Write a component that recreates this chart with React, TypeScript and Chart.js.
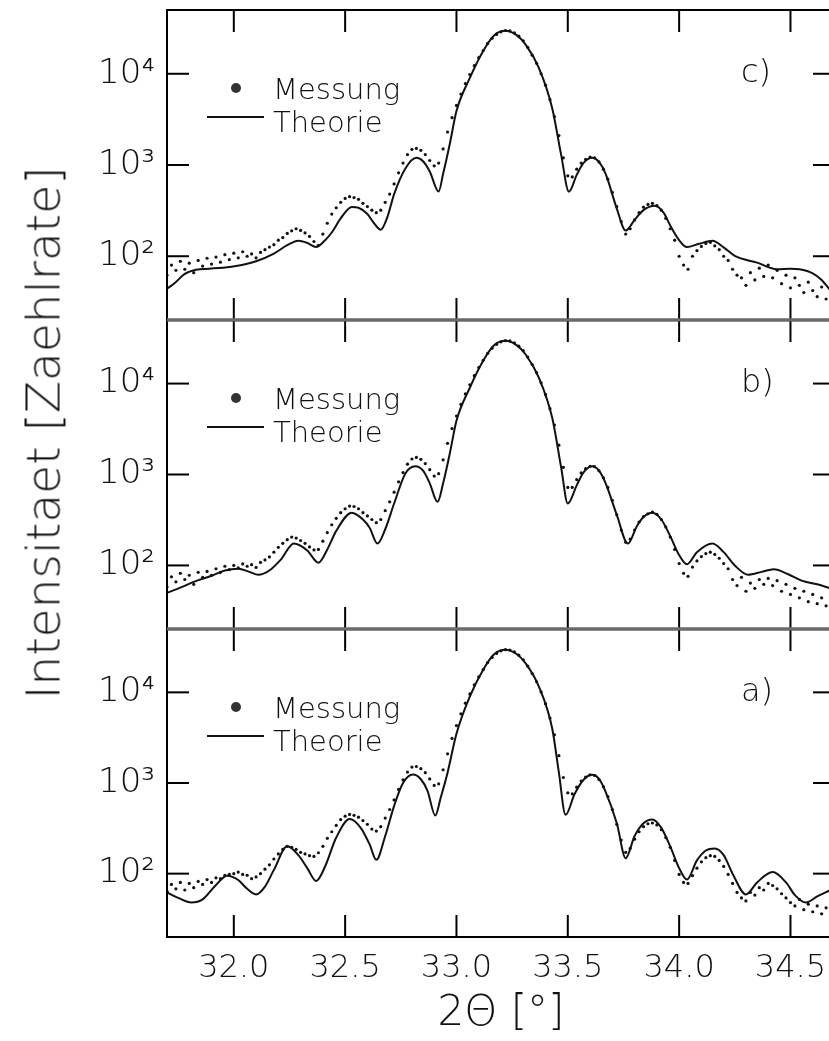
import { useEffect, useRef } from 'react';
import { Chart, registerables } from 'chart.js';

Chart.register(...registerables);

// ---------- data ----------
const X_TICKS = [32.0, 32.5, 33.0, 33.5, 34.0, 34.5];
const X_TICK_LABELS = ['32.0', '32.5', '33.0', '33.5', '34.0', '34.5'];
const Y_TICKS = [100, 1000, 10000];
const Y_TICK_LABELS = ['10²', '10³', '10⁴'];
const PANEL_LABELS = ['c)', 'b)', 'a)'];
const LEGEND_MEAS = 'Messung';
const LEGEND_THEO = 'Theorie';
const X_TITLE = '2Θ [°]';
const Y_TITLE = 'Intensitaet [Zaehlrate]';

const MEAS_X = [
  31.70, 31.72, 31.74, 31.76, 31.78, 31.80, 31.82, 31.84, 31.86, 31.88,
  31.90, 31.92, 31.94, 31.96, 31.98, 32.00, 32.02, 32.04, 32.06, 32.08,
  32.10, 32.12, 32.14, 32.16, 32.18, 32.20, 32.22, 32.24, 32.26, 32.28,
  32.30, 32.32, 32.34, 32.36, 32.38, 32.40, 32.42, 32.44, 32.46, 32.48,
  32.50, 32.52, 32.54, 32.56, 32.58, 32.60, 32.62, 32.64, 32.66, 32.68,
  32.70, 32.72, 32.74, 32.76, 32.78, 32.80, 32.82, 32.84, 32.86, 32.88,
  32.90, 32.92, 32.94, 32.96, 32.98, 33.00, 33.02, 33.04, 33.06, 33.08,
  33.10, 33.12, 33.14, 33.16, 33.18, 33.20, 33.22, 33.24, 33.26, 33.28,
  33.30, 33.32, 33.34, 33.36, 33.38, 33.40, 33.42, 33.44, 33.46, 33.48,
  33.50, 33.52, 33.54, 33.56, 33.58, 33.60, 33.62, 33.64, 33.66, 33.68,
  33.70, 33.72, 33.74, 33.76, 33.78, 33.80, 33.82, 33.84, 33.86, 33.88,
  33.90, 33.92, 33.94, 33.96, 33.98, 34.00, 34.02, 34.04, 34.06, 34.08,
  34.10, 34.12, 34.14, 34.16, 34.18, 34.20, 34.22, 34.24, 34.26, 34.28,
  34.30, 34.32, 34.34, 34.36, 34.38, 34.40, 34.42, 34.44, 34.46, 34.48,
  34.50, 34.52, 34.54, 34.56, 34.58, 34.60, 34.62, 34.64, 34.66, 34.68,
];

const MEAS_C = [
  62, 80, 70, 88, 72, 84, 66, 90, 78, 95,
  82, 98, 86, 104, 92, 108, 96, 112, 100, 106,
  96, 110, 118, 126, 134, 150, 160, 178, 190, 200,
  192, 180, 165, 145, 132, 175, 230, 290, 340, 390,
  430, 450, 440, 420, 380, 350, 320, 300, 320, 390,
  480, 620, 820, 1050, 1300, 1480, 1520, 1450, 1300, 1120,
  980, 1050, 1500, 2300, 3300, 4500, 6000, 7800, 9800, 12300,
  15000, 18000, 21500, 24500, 27000, 28800, 29800, 29500, 28000, 25800,
  23000, 19500, 16000, 13000, 10000, 7500, 5200, 3400, 2100, 1200,
  760, 740, 900, 1050, 1150, 1220, 1200, 1080, 900, 700,
  500, 350, 240, 175, 200, 250, 300, 345, 370, 380,
  360, 320, 260, 200, 150, 100, 80, 72, 100, 115,
  128, 138, 142, 130, 118, 100, 90, 72, 62, 58,
  48, 66, 55, 74, 60, 80, 58, 70, 50, 62,
  45, 58, 48, 40, 52, 42, 36, 46, 34, 40,
];

const MEAS_B = [
  58, 75, 66, 82, 70, 78, 62, 84, 74, 86,
  78, 92, 84, 98, 90, 100, 94, 104, 98, 102,
  95, 108, 115, 124, 140, 158, 175, 192, 205, 200,
  188, 175, 160, 148, 150, 185, 230, 280, 330, 380,
  420, 450, 445, 420, 380, 350, 320, 295, 320, 400,
  500, 640, 830, 1050, 1300, 1480, 1540, 1470, 1320, 1130,
  960, 1020, 1450, 2200, 3200, 4400, 5900, 7700, 9700, 12200,
  15000, 18000, 21500, 24500, 27000, 28800, 29700, 29400, 28000, 25800,
  23000, 19600, 16200, 13200, 10200, 7600, 5300, 3500, 2100, 1200,
  720, 720, 880, 1040, 1160, 1230, 1220, 1100, 920, 720,
  520, 360, 245, 180, 195, 245, 300, 345, 370, 385,
  365, 320, 265, 205, 150, 105, 82, 76, 96, 112,
  125, 135, 140, 132, 120, 105, 92, 70, 60, 74,
  52, 64, 56, 70, 62, 72, 60, 68, 52, 62,
  48, 56, 44, 52, 40, 48, 38, 44, 36, 40,
];

const MEAS_A = [
  64, 76, 68, 80, 66, 78, 70, 82, 76, 86,
  80, 90, 88, 96, 98, 100, 104, 98, 96, 88,
  92, 100, 112, 125, 145, 165, 185, 200, 195, 185,
  172, 165, 158, 155, 170, 200, 245, 290, 340, 395,
  430, 450, 440, 420, 385, 350, 310, 295, 330, 410,
  510, 650, 850, 1080, 1320, 1500, 1520, 1440, 1300, 1110,
  940, 980, 1400, 2100, 3100, 4300, 5800, 7600, 9600, 12100,
  14800, 17800, 21300, 24300, 26900, 28700, 29600, 29300, 27900, 25700,
  22900, 19500, 16100, 13100, 10100, 7500, 5200, 3400, 2000, 1150,
  780, 760, 900, 1050, 1160, 1230, 1210, 1090, 910, 710,
  510, 350, 235, 172, 190, 240, 290, 330, 355, 362,
  345, 305, 250, 195, 140, 98, 80, 78, 95, 115,
  135, 150, 158, 155, 140, 120, 98, 78, 62, 54,
  50, 62, 58, 70, 66, 78, 74, 68, 60, 54,
  48, 44, 52, 40, 46, 38, 44, 36, 42, 38,
];

const THEO_C_X = [31.70, 31.735, 31.78, 31.83, 31.89, 31.95, 32.01, 32.10, 32.18, 32.24, 32.29, 32.33, 32.37, 32.41, 32.44, 32.48, 32.53, 32.56, 32.60, 32.63, 32.66, 32.69, 32.72, 32.77, 32.82, 32.85, 32.88, 32.92, 32.94, 32.97, 33.00, 33.06, 33.12, 33.17, 33.22, 33.27, 33.31, 33.37, 33.43, 33.47, 33.505, 33.54, 33.57, 33.61, 33.64, 33.67, 33.72, 33.76, 33.80, 33.84, 33.89, 33.93, 33.96, 34.00, 34.035, 34.09, 34.15, 34.20, 34.25, 34.35, 34.44, 34.50, 34.54, 34.60, 34.64, 34.68];
const THEO_C_Y = [44, 51, 64, 71, 73, 75, 78, 88, 107, 132, 148, 140, 126, 150, 182, 260, 347, 340, 290, 230, 195, 270, 480, 912, 1200, 1100, 850, 513, 800, 1700, 3900, 9000, 17800, 26500, 29600, 26500, 21000, 11600, 4200, 1300, 510, 780, 1050, 1200, 1080, 800, 333, 191, 250, 320, 357, 300, 217, 150, 126, 137, 148, 125, 101, 85, 72, 73, 72, 65, 55, 42];

const THEO_B_X = [31.70, 31.76, 31.82, 31.90, 31.96, 32.02, 32.07, 32.11, 32.16, 32.21, 32.27, 32.33, 32.38, 32.42, 32.46, 32.53, 32.58, 32.61, 32.645, 32.68, 32.72, 32.77, 32.815, 32.85, 32.88, 32.915, 32.94, 32.97, 33.00, 33.06, 33.12, 33.17, 33.22, 33.27, 33.31, 33.37, 33.43, 33.47, 33.50, 33.54, 33.57, 33.61, 33.64, 33.67, 33.72, 33.77, 33.81, 33.84, 33.88, 33.92, 33.96, 34.00, 34.035, 34.08, 34.15, 34.20, 34.25, 34.31, 34.37, 34.425, 34.49, 34.55, 34.62, 34.68];
const THEO_B_Y = [50, 57, 66, 77, 88, 92, 85, 79, 88, 115, 174, 146, 107, 150, 240, 380, 320, 260, 174, 250, 480, 1020, 1230, 1100, 800, 500, 800, 1700, 3900, 9000, 17800, 26500, 29600, 26500, 21000, 11600, 4200, 1200, 480, 760, 1050, 1230, 1100, 800, 360, 174, 270, 340, 380, 320, 210, 130, 103, 140, 174, 140, 100, 79, 85, 91, 80, 68, 62, 56];

const THEO_A_X = [31.70, 31.75, 31.81, 31.86, 31.92, 31.97, 32.02, 32.06, 32.10, 32.14, 32.18, 32.24, 32.29, 32.33, 32.37, 32.41, 32.46, 32.52, 32.57, 32.61, 32.64, 32.68, 32.72, 32.76, 32.805, 32.84, 32.87, 32.905, 32.93, 32.96, 33.00, 33.06, 33.12, 33.17, 33.22, 33.27, 33.31, 33.37, 33.43, 33.46, 33.49, 33.53, 33.57, 33.61, 33.64, 33.67, 33.72, 33.76, 33.80, 33.84, 33.88, 33.92, 33.96, 34.00, 34.035, 34.08, 34.12, 34.16, 34.20, 34.24, 34.30, 34.35, 34.42, 34.48, 34.52, 34.57, 34.62, 34.68];
const THEO_A_Y = [62, 54, 48, 52, 75, 95, 85, 68, 59, 72, 110, 200, 160, 115, 83, 120, 250, 400, 320, 210, 142, 260, 560, 1000, 1240, 1100, 820, 437, 700, 1300, 3500, 9000, 17800, 26500, 29600, 26500, 21000, 11600, 4000, 1300, 445, 750, 1080, 1230, 1110, 800, 360, 148, 260, 360, 396, 320, 200, 115, 86, 140, 180, 190, 160, 100, 59, 80, 104, 80, 58, 48, 56, 66];

// ---------- style / layout ----------
const FONT = "'DejaVu Sans', sans-serif";
const WEIGHT = 200;
const AXIS_LEFT = 167;
const CANVAS_W = 845;
const PAGE_H = 1041;
const SEP_COLOR = '#6a6a6a';

const PANELS = [
  { top: 10, bottom: 320, theoX: THEO_C_X, theoY: THEO_C_Y, meas: MEAS_C, label: PANEL_LABELS[0], topColor: '#000', bottomColor: SEP_COLOR, showX: false },
  { top: 320, bottom: 629, theoX: THEO_B_X, theoY: THEO_B_Y, meas: MEAS_B, label: PANEL_LABELS[1], topColor: SEP_COLOR, bottomColor: SEP_COLOR, showX: false },
  { top: 629, bottom: 937, theoX: THEO_A_X, theoY: THEO_A_Y, meas: MEAS_A, label: PANEL_LABELS[2], topColor: SEP_COLOR, bottomColor: '#000', showX: true },
];
const PAD = 6;

const framePlugin = {
  id: 'frame',
  afterDraw(chart: any, _args: any, opts: any) {
    const { ctx, chartArea } = chart;
    const { left, right, top, bottom } = chartArea;
    const x = chart.scales.x;
    const y = chart.scales.y;
    const seg = (x1: number, y1: number, x2: number, y2: number, color = '#000', w = 2) => {
      ctx.beginPath();
      ctx.strokeStyle = color;
      ctx.lineWidth = w;
      ctx.moveTo(x1, y1);
      ctx.lineTo(x2, y2);
      ctx.stroke();
    };
    ctx.save();
    const TL = 22;
    x.ticks.forEach((t: any) => {
      const px = x.getPixelForValue(t.value);
      seg(px, top, px, top + TL);
      seg(px, bottom, px, bottom - TL);
    });
    y.ticks.forEach((t: any) => {
      const py = y.getPixelForValue(t.value);
      seg(left, py, left + TL, py);
      seg(right, py, right - TL, py);
    });
    seg(left, top - 1, left, bottom + 1);
    seg(right, top - 1, right, bottom + 1);
    seg(left, top, right, top, opts.topColor, opts.topColor === '#000' ? 2 : 3);
    seg(left, bottom, right, bottom, opts.bottomColor, opts.bottomColor === '#000' ? 2 : 3);
    ctx.restore();
  },
};

function panelCanvasBox(p: any) {
  const cTop = p.top - PAD;
  const cBottom = p.showX ? PAGE_H : p.bottom + PAD;
  return { cTop, height: cBottom - cTop };
}

export default function App() {
  const refs = [useRef<HTMLCanvasElement>(null), useRef<HTMLCanvasElement>(null), useRef<HTMLCanvasElement>(null)];

  useEffect(() => {
    const charts = PANELS.map((p, i) => {
      const canvas = refs[i].current!;
      const theory = p.theoX.map((x, k) => ({ x, y: p.theoY[k] }));
      const meas = MEAS_X.map((x, k) => ({ x, y: p.meas[k] }));
      return new Chart(canvas, {
        type: 'line',
        data: {
          datasets: [
            {
              label: LEGEND_THEO,
              data: theory,
              borderColor: '#111',
              borderWidth: 2,
              pointRadius: 0,
              cubicInterpolationMode: 'monotone',
              fill: false,
            },
            {
              label: LEGEND_MEAS,
              data: meas,
              showLine: false,
              pointRadius: 1.6,
              pointBorderWidth: 0,
              pointBackgroundColor: '#111',
              borderColor: '#111',
            },
          ],
        },
        options: {
          responsive: false,
          animation: false,
          devicePixelRatio: 1,
          layout: { padding: { top: PAD, bottom: p.showX ? 0 : PAD, left: 0, right: CANVAS_W - 835 } },
          plugins: {
            legend: { display: false },
            tooltip: { enabled: false },
            frame: { topColor: p.topColor, bottomColor: p.bottomColor },
          } as any,
          scales: {
            x: {
              type: 'linear',
              min: 31.7,
              max: 34.7,
              grid: { display: false, drawTicks: false },
              border: { display: false },
              afterBuildTicks: (s: any) => { s.ticks = X_TICKS.map((v) => ({ value: v })); },
              afterFit: (s: any) => {
                s.height = p.showX ? PAGE_H - p.bottom : 0;
                s.paddingLeft = 0; s.paddingRight = 0; s.paddingTop = 0; s.paddingBottom = 0;
              },
              ticks: {
                display: p.showX,
                color: '#111',
                padding: 12,
                maxRotation: 0,
                autoSkip: false,
                font: { family: FONT, size: 32, weight: WEIGHT as any },
                callback: (_v: any, idx: number) => X_TICK_LABELS[idx],
              },
              title: {
                display: p.showX,
                text: X_TITLE,
                color: '#111',
                font: { family: FONT, size: 42, weight: WEIGHT as any },
                padding: { top: 0, bottom: 2 },
              },
            },
            y: {
              type: 'logarithmic',
              min: 20,
              max: 50000,
              grid: { display: false, drawTicks: false },
              border: { display: false },
              afterBuildTicks: (s: any) => { s.ticks = Y_TICKS.map((v) => ({ value: v })); },
              afterFit: (s: any) => {
                s.width = AXIS_LEFT;
                s.paddingLeft = 0; s.paddingRight = 0; s.paddingTop = 0; s.paddingBottom = 0;
              },
              ticks: {
                color: '#111',
                padding: 12,
                autoSkip: false,
                font: { family: FONT, size: 34, weight: WEIGHT as any },
                callback: (_v: any, idx: number) => Y_TICK_LABELS[idx],
              },
            },
          },
        },
        plugins: [framePlugin],
      } as any);
    });
    return () => charts.forEach((c) => c.destroy());
  }, []);

  const textStyle = (size: number): any => ({
    position: 'absolute',
    fontFamily: FONT,
    fontWeight: WEIGHT,
    fontSize: size + 'px',
    lineHeight: '30px',
    color: '#111',
    whiteSpace: 'nowrap',
  });

  return (
    <div style={{ position: 'absolute', left: 0, top: 0, width: 829, height: PAGE_H, overflow: 'hidden', background: '#fff' }}>
      {PANELS.map((p, i) => {
        const { cTop, height } = panelCanvasBox(p);
        return (
          <canvas
            key={'c' + i}
            ref={refs[i]}
            width={CANVAS_W}
            height={height}
            style={{ position: 'absolute', left: 0, top: cTop, width: CANVAS_W, height }}
          />
        );
      })}
      {PANELS.map((p, i) => (
        <div key={'l' + i}>
          <div style={{ position: 'absolute', left: 231, top: p.top + 73, width: 10, height: 10, borderRadius: 5, background: '#333' }} />
          <div style={{ ...textStyle(29), left: 273, top: p.top + 64 }}>{LEGEND_MEAS}</div>
          <div style={{ position: 'absolute', left: 207, top: p.top + 106, width: 57, height: 2, background: '#111' }} />
          <div style={{ ...textStyle(29), left: 273, top: p.top + 97 }}>{LEGEND_THEO}</div>
          <div style={{ ...textStyle(32), left: 741, top: p.top + 46 }}>{p.label}</div>
        </div>
      ))}
      <div
        style={{
          position: 'absolute',
          left: 43,
          top: 433,
          transform: 'translate(-50%, -50%) rotate(-90deg)',
          fontFamily: FONT,
          fontWeight: WEIGHT,
          fontSize: '47px',
          lineHeight: '47px',
          color: '#111',
          whiteSpace: 'nowrap',
        }}
      >
        {Y_TITLE}
      </div>
    </div>
  );
}
